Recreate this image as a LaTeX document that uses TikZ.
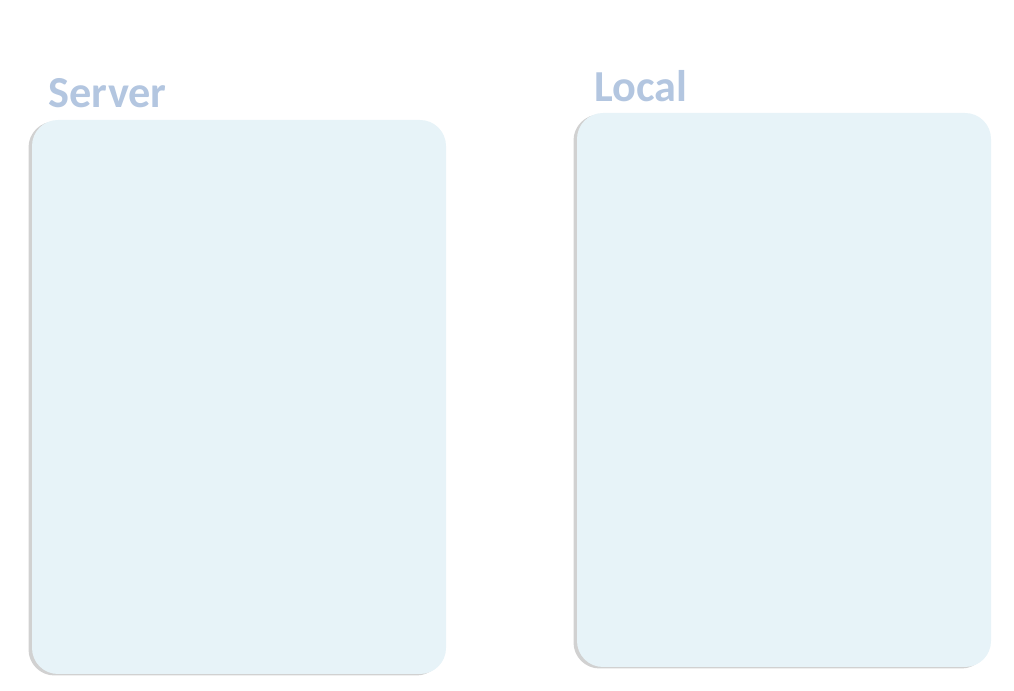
\documentclass[tikz,border=0pt]{standalone}
\usepackage{fontspec}
\setmainfont{Carlito}
\usepackage{tikz}
\usetikzlibrary{shadows}
\definecolor{boxfill}{HTML}{E7F3F8}
\definecolor{labelcol}{HTML}{B3C6E0}

\begin{document}
\begin{tikzpicture}[box_node/.style={rectangle,rounded corners=0.26cm,fill=boxfill,minimum width=4.14cm,minimum height=5.54cm,inner sep=0pt,drop shadow={shadow xshift=-0.035cm,shadow yshift=-0.015cm,opacity=0.3,fill=black!60}},
    label_node/.style={anchor=base west,inner sep=0pt,font=\fontsize{12.6}{14}\selectfont\bfseries,text=labelcol}]

    \useasboundingbox (0,0) rectangle (10.14,6.91);

    \node[box_node] (server) at (2.39, 2.94) {};
    \node[box_node] (local) at (7.84, 3.01) {};

    \node[label_node] (serverlabel) at (0.48, 5.83) {Server};
    \node[label_node] (locallabel) at (5.94, 5.89) {Local};

\end{tikzpicture}
\end{document}
